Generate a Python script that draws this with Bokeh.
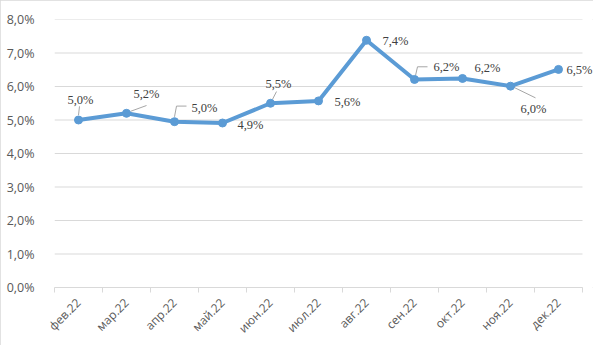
import numpy as np
from math import pi
from bokeh.plotting import figure
from bokeh.models import ColumnDataSource, Range1d, FixedTicker, LabelSet
from bokeh.embed import file_html
from bokeh.resources import INLINE

categories = ["фев.22", "мар.22", "апр.22", "май.22", "июн.22", "июл.22",
              "авг.22", "сен.22", "окт.22", "ноя.22", "дек.22"]
values = [5.0, 5.2, 4.95, 4.91, 5.5, 5.57, 7.38, 6.21, 6.24, 6.01, 6.51]
y_ticks = [0, 1, 2, 3, 4, 5, 6, 7, 8]

# label placement (pixel offsets from point), styling only
label_dx = [2, 20, 30, 28, 8, 29, 29, 32, 25, 23, 21]
label_dy = [20, 19, 14, -2, 19, -1, -1, 12, 10, -23, -1]
# leader lines (pixel offsets from point: (dx, dy) with dy up positive)
leaders = {
    0: [(0, 5), (1, 14)],
    1: [(4, 2), (20, 8)],
    2: [(0, 5), (2, 16), (12, 16)],
    4: [(2, 4), (6, 12)],
    7: [(1, 4), (3, 13), (13, 13)],
    9: [(3, -1), (25, -12)],
}

W, H = 593, 345
ML, MT, MB = 54, 19, 51
px_x = 48.0                      # pixels per category
frame_w = W - ML
px_y = (H - MT - MB) / 8.0
n = len(categories)
x_lo, x_hi = -0.5, n - 0.5

x = list(range(n))
labels = [f"{v:.1f}".replace(".", ",") + "%" for v in values]

p = figure(width=W, height=H, output_backend="svg", toolbar_location=None,
           x_range=Range1d(x_lo, x_lo + frame_w / px_x), y_range=Range1d(0, 8),
           min_border_left=ML, min_border_right=0, min_border_top=MT, min_border_bottom=MB)
p.outline_line_color = None
p.background_fill_color = "white"
p.border_fill_color = "white"

# grid lines (restricted to the category span)
p.xgrid.visible = False
p.ygrid.visible = False
p.segment(x0=[x_lo] * len(y_ticks), x1=[x_hi] * len(y_ticks), y0=y_ticks, y1=y_ticks,
          line_color="#d9d9d9", line_width=1)

# y axis
p.yaxis.ticker = FixedTicker(ticks=y_ticks)
p.yaxis.major_label_overrides = {t: f"{t},0%" for t in y_ticks}
p.yaxis.axis_line_color = None
p.yaxis.major_tick_line_color = None
p.yaxis.minor_tick_line_color = None
p.yaxis.major_label_standoff = 14
p.yaxis.major_label_text_font = "Open Sans"
p.yaxis.major_label_text_font_size = "12.5px"
p.yaxis.major_label_text_color = "#595959"

# x axis
p.xaxis.ticker = FixedTicker(ticks=x, minor_ticks=[i - 0.5 for i in range(n + 1)])
p.xaxis.bounds = (x_lo, x_hi)
p.xaxis.major_label_overrides = {i: c for i, c in enumerate(categories)}
p.xaxis.major_label_orientation = pi / 4
p.xaxis.axis_line_color = "#d9d9d9"
p.xaxis.major_tick_in = 0
p.xaxis.major_tick_out = 0
p.xaxis.minor_tick_in = 0
p.xaxis.minor_tick_out = 5
p.xaxis.minor_tick_line_color = "#d9d9d9"
p.xaxis.major_label_standoff = 8
p.xaxis.major_label_text_font = "Open Sans"
p.xaxis.major_label_text_font_size = "12px"
p.xaxis.major_label_text_color = "#595959"

# leader lines
xs, ys = [], []
for i, pts in leaders.items():
    xs.append([x[i] + dx / px_x for dx, dy in pts])
    ys.append([values[i] + dy / px_y for dx, dy in pts])
p.multi_line(xs, ys, line_color="#a6a6a6", line_width=1)

# series
p.line(x, values, line_color="#5b9bd5", line_width=4, line_join="round")
p.scatter(x, values, size=8, fill_color="#5b9bd5", line_color="#5b9bd5")

src = ColumnDataSource(dict(x=x, y=values, text=labels, dx=label_dx, dy=label_dy))
p.add_layout(LabelSet(x="x", y="y", text="text", x_offset="dx", y_offset="dy", source=src,
                      text_align="center", text_baseline="middle",
                      text_font="Open Sans", text_font_size="12.5px", text_color="#404040"))

p.styles = {"outline": "1px solid #d9d9d9", "outline-offset": "-1px"}

open("out.html", "w").write(file_html(p, INLINE))
